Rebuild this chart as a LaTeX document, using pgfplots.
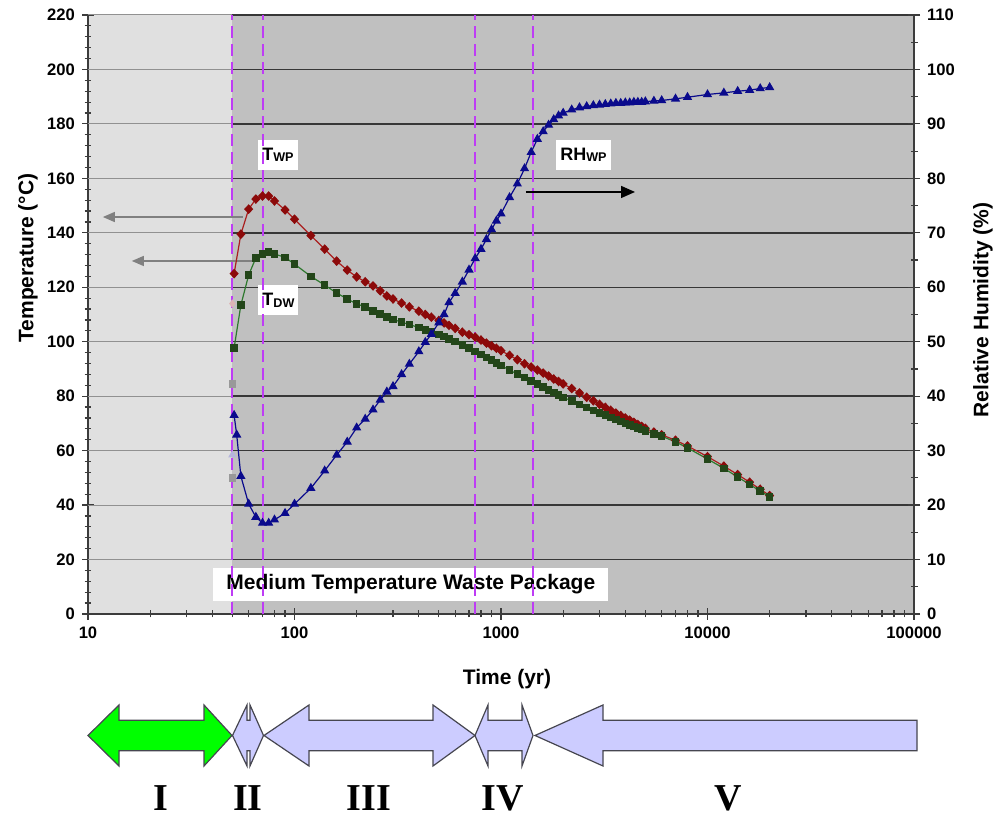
\documentclass[border=0pt]{standalone}
\usepackage{fontspec}
\setmainfont{Liberation Sans}
\newfontfamily\romanfont{Liberation Serif}
\usepackage{pgfplots}
\pgfplotsset{compat=1.18}
\usetikzlibrary{arrows.meta}

\definecolor{lightbg}{RGB}{224,224,224}
\definecolor{darkbg}{RGB}{192,192,192}
\definecolor{gridc}{RGB}{55,55,55}
\definecolor{gridlight}{RGB}{145,145,145}
\definecolor{axc}{RGB}{60,60,60}
\definecolor{dashc}{RGB}{190,60,245}
\definecolor{wpred}{RGB}{140,10,10}
\definecolor{wpredline}{RGB}{170,30,30}
\definecolor{dwgreen}{RGB}{35,70,25}
\definecolor{dwgreenline}{RGB}{45,120,45}
\definecolor{rhblue}{RGB}{10,10,140}
\definecolor{greenfill}{RGB}{0,255,0}
\definecolor{lavfill}{RGB}{204,204,255}
\definecolor{arrowedge}{RGB}{70,70,80}
\definecolor{grayarrow}{RGB}{128,128,128}

% waste package temperature (yr, degC)
\pgfplotstableread{
t T
51 125
55 139.5
60 148.7
65 152.4
70 153.5
75 153.5
80 151.7
90 148.4
100 145
120 139
140 134
160 129.6
180 126.3
200 123.8
220 122
240 120.5
260 118.7
280 116.8
300 115.7
330 114.2
360 112.8
400 111.2
430 110
460 109
500 107.8
530 106.9
560 106
600 104.9
650 103.5
700 102.6
750 101.7
800 100.6
850 99.5
900 98.5
950 97.6
1000 96.7
1100 95
1200 93.4
1300 91.9
1400 90.7
1500 89.6
1600 88.5
1700 87.4
1800 86.3
1900 85.4
2000 84.5
2200 82.8
2400 81.2
2600 79.6
2800 78.3
3000 77
3200 75.9
3400 74.8
3600 73.8
3800 72.9
4000 72
4200 71.2
4400 70.4
4600 69.6
4800 68.9
5000 68.2
5500 66.8
6000 65.8
7000 63.8
8000 61.7
10000 57.8
12000 54.3
14000 51.2
16000 48.4
18000 45.8
20000 43.5
}\twp

% drift wall temperature (yr, degC)
\pgfplotstableread{
t T
51 97.7
55 113.5
60 124.5
65 130.8
70 132.2
75 133
80 132.2
90 131
100 128.5
120 124
140 120.8
160 117.9
180 115.7
200 113.9
220 112.8
240 111.3
260 110.2
280 109.1
300 108.2
330 107.2
360 106.3
400 105.2
430 104.4
460 103.7
500 102.7
530 101.9
560 101.1
600 100.1
650 98.9
700 97.6
750 96.4
800 95.3
850 94.2
900 93.2
950 92.2
1000 91.3
1100 89.6
1200 88.1
1300 86.8
1400 85.6
1500 84.5
1600 83.4
1700 82.3
1800 81.3
1900 80.4
2000 79.5
2200 78.3
2400 77
2600 75.9
2800 74.8
3000 73.8
3200 73
3400 72.2
3600 71.4
3800 70.7
4000 70
4200 69.4
4400 68.8
4600 68.2
4800 67.7
5000 67.2
5500 66.2
6000 65.3
7000 63.2
8000 61
10000 56.9
12000 53.5
14000 50.3
16000 47.6
18000 45.1
20000 43
}\tdw

% relative humidity at waste package (yr, %)
\pgfplotstableread{
t RH
51 36.5
52.5 32.9
55 25.3
60 20.2
65 17.8
70 16.7
75 16.7
80 17.3
90 18.5
100 20.2
120 23.1
140 26.3
160 29.2
180 31.6
200 34.2
220 35.8
240 37.5
260 39.3
280 40.8
300 41.8
330 44
360 45.9
400 48.2
430 49.9
460 51.4
500 53.5
530 55
560 57.2
600 58.9
650 61
700 63.2
750 65.3
800 67
850 68.8
900 70.6
950 72.2
1000 73.5
1100 76.5
1200 79
1300 81.8
1400 84.8
1500 87.2
1600 88.6
1700 89.8
1800 90.8
1900 91.5
2000 92
2200 92.6
2400 93
2600 93.2
2800 93.4
3000 93.5
3200 93.6
3400 93.7
3600 93.8
3800 93.8
4000 93.9
4200 93.9
4400 94
4600 94
4800 94
5000 94.1
5500 94.2
6000 94.3
7000 94.6
8000 94.9
10000 95.4
12000 95.7
14000 96
16000 96.2
18000 96.5
20000 96.7
}\rhwp

\tikzset{
  boxlab/.style={fill=white, inner sep=0pt, minimum width=20pt, minimum height=15pt,
    font=\bfseries\fontsize{9}{10}\selectfont},
  phase/.style={draw=arrowedge, line width=0.6pt, line join=miter},
}
\newcommand{\sub}[1]{\raisebox{-0.8pt}{\fontsize{6.3}{7}\selectfont #1}}

\begin{document}
\begin{tikzpicture}[x=1pt,y=1pt]
\useasboundingbox (-44,-101.5) rectangle (454.5,307);
% plot-area backgrounds (x = 50 yr sits 72.17pt from the left edge)
\fill[lightbg] (0,0) rectangle (72.17,299.5);
\fill[darkbg] (72.17,0) rectangle (413,299.5);

\begin{axis}[
  at={(0,0)}, anchor=south west,
  scale only axis, width=413pt, height=299.5pt,
  clip=false,
  xmode=log, xmin=10, xmax=100000,
  ymin=0, ymax=220,
  axis x line*=bottom, axis y line*=left,
  axis line style={-, draw=axc, line width=0.8pt},
  xtick={10,100,1000,10000,100000},
  xticklabels={10,100,1000,10000,100000},
  ytick={0,20,...,220},
  minor y tick num=4,
  tick align=center, major tick length=6pt, minor tick length=3.5pt,
  tick style={draw=axc, line width=0.6pt},
  ticklabel style={font=\bfseries\fontsize{8.3}{10}\selectfont},
  /pgf/number format/assume math mode=true,
]
% horizontal grid: faint over the light band, dark elsewhere
\pgfplotsinvokeforeach{20,40,...,220}{
  \draw[gridlight, line width=0.5pt] (axis cs:10,#1) -- (axis cs:50,#1);
  \draw[gridc, line width=0.75pt] (axis cs:50,#1) -- (axis cs:100000,#1);
}

% label boxes
\node[boxlab] at (axis cs:83.2,168.6) {T\sub{WP}};
\node[boxlab] at (axis cs:83.6,115.3) {T\sub{DW}};
\node[boxlab, minimum width=27.5pt] at (axis cs:2508,168.6) {RH\sub{WP}};
\node[fill=white, inner xsep=6.5pt, minimum height=16pt,
  font=\bfseries\fontsize{10.5}{12}\selectfont] at (axis cs:366,11) {Medium Temperature Waste Package};

% period boundaries
\pgfplotsinvokeforeach{50,70,750,1430}{
  \draw[dashc, line width=1pt, dash pattern=on 6pt off 3pt] (axis cs:#1,0) -- (axis cs:#1,220);
}

% axis pointers
\draw[grayarrow, line width=0.7pt, -{Triangle[length=6pt,width=5pt]}] (axis cs:56.3,145.8) -- (axis cs:11.8,145.8);
\draw[grayarrow, line width=0.7pt, -{Triangle[length=6pt,width=5pt]}] (axis cs:63,129.65) -- (axis cs:16.3,129.65);
\draw[black, line width=0.7pt, -{Triangle[length=7pt,width=6pt]}] (axis cs:1321,155) -- (axis cs:4457,155);

% faded starting points
\addplot[only marks, mark=diamond*, mark options={draw=wpred!30!white, fill=wpred!30!white}, mark size=1.8pt] coordinates {(50,114)};
\addplot[only marks, mark=square*, mark options={draw=gray!80, fill=gray!80}, mark size=1.6pt] coordinates {(50,84.5) (50,50)};

\addplot[wpredline, line width=0.6pt, mark=diamond*, mark size=2pt,
  mark options={draw=wpred, fill=wpred, xscale=1.25}] table[x=t, y=T] {\twp};
\addplot[dwgreenline, line width=0.6pt, mark=square*, mark size=1.6pt,
  mark options={draw=dwgreen, fill=dwgreen}] table[x=t, y=T] {\tdw};
\end{axis}

\begin{axis}[
  at={(0,0)}, anchor=south west,
  scale only axis, width=413pt, height=299.5pt,
  clip=false,
  xmode=log, xmin=10, xmax=100000,
  ymin=0, ymax=110,
  axis x line=none, axis y line*=right,
  axis line style={-, draw=axc, line width=0.8pt},
  ytick={0,10,...,110},
  minor y tick num=1,
  tick align=center, major tick length=6pt, minor tick length=3.5pt,
  tick style={draw=axc, line width=0.6pt},
  ticklabel style={font=\bfseries\fontsize{8.3}{10}\selectfont},
  /pgf/number format/assume math mode=true,
]
\addplot[only marks, mark=triangle*, mark options={draw=rhblue!30!white, fill=rhblue!30!white}, mark size=2pt] coordinates {(50,29.2)};
\addplot[rhblue, line width=0.6pt, mark=triangle*, mark size=2.1pt,
  mark options={draw=rhblue, fill=rhblue}] table[x=t, y=RH] {\rhwp};
\end{axis}

% axis titles
\node[rotate=90, font=\bfseries\fontsize{10.5}{12}\selectfont] at (-30,178) {Temperature (°C)};
\node[rotate=90, font=\bfseries\fontsize{10.5}{12}\selectfont] at (447.5,152) {Relative Humidity (\%)};
\node[font=\bfseries\fontsize{10.5}{12}\selectfont] at (209.5,-32.5) {Time (yr)};

% phase arrows
\draw[phase, fill=greenfill] (0,-60.75) -- (15.5,-45.5) -- (15.5,-53.15) -- (58,-53.15) -- (58,-45.5) -- (72,-60.75)
  -- (58,-76) -- (58,-68.35) -- (15.5,-68.35) -- (15.5,-76) -- cycle;
\draw[phase, fill=lavfill] (72.25,-60.75) -- (79.5,-45.5) -- (79.5,-53.15) -- (81,-53.15) -- (81,-45.5) -- (87.75,-60.75)
  -- (81,-76) -- (81,-68.35) -- (79.5,-68.35) -- (79.5,-76) -- cycle;
\draw[phase, fill=lavfill] (88,-60.75) -- (110.5,-45.5) -- (110.5,-53.15) -- (172.5,-53.15) -- (172.5,-45.5) -- (193.5,-60.75)
  -- (172.5,-76) -- (172.5,-68.35) -- (110.5,-68.35) -- (110.5,-76) -- cycle;
\draw[phase, fill=lavfill] (193.5,-60.75) -- (200,-45.5) -- (200,-53.15) -- (217,-53.15) -- (217,-45.5) -- (222.5,-60.75)
  -- (217,-76) -- (217,-68.35) -- (200,-68.35) -- (200,-76) -- cycle;
\draw[phase, fill=lavfill] (223.5,-60.75) -- (257.5,-45.5) -- (257.5,-53.15) -- (414.5,-53.15) -- (414.5,-68.35)
  -- (257.5,-68.35) -- (257.5,-76) -- cycle;

\foreach \xx/\lab in {36.5/I, 80/II, 140.5/III, 207.5/IV, 320/V}
  \node[inner sep=0pt, font=\romanfont\bfseries\fontsize{19}{20}\selectfont] at (\xx,-92) {\lab};
\end{tikzpicture}
\end{document}
